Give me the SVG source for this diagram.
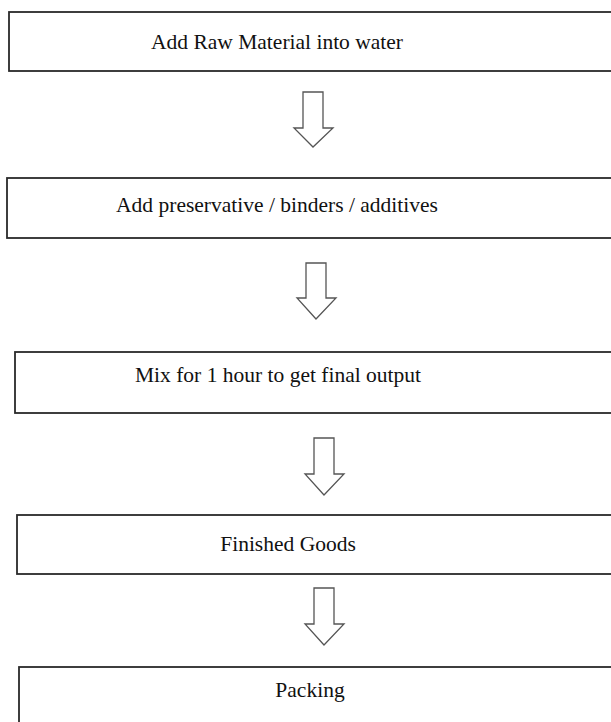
<svg xmlns="http://www.w3.org/2000/svg" width="611" height="722" viewBox="0 0 611 722">
<style>
.box{fill:#fff;stroke:#2a2a2a;stroke-width:1.8}
.lbl{font-family:"Liberation Serif","Times New Roman",serif;font-size:21.5px;fill:#111;text-anchor:middle}
.arr{fill:#fff;stroke:#555;stroke-width:1.3;stroke-linejoin:miter}
</style>
<rect width="611" height="722" fill="#fff"/>
<g id="connectors">
<path class="arr" d="M303,92 H323 V128 H333 L313,147 L294,128 H303 Z"/>
<path class="arr" d="M306,263 H326 V298 H336 L316,319 L297,298 H306 Z"/>
<path class="arr" d="M314,438 H334 V474 H344 L324,495 L305,474 H314 Z"/>
<path class="arr" d="M314,588 H334 V624 H344 L324,645 L305,624 H314 Z"/>
</g>
<g id="n1"><rect class="box" x="9" y="12" width="620" height="59"/><text class="lbl" x="277" y="49">Add Raw Material into water</text></g>
<g id="n2"><rect class="box" x="7" y="178" width="620" height="60"/><text class="lbl" x="277" y="212">Add preservative / binders / additives</text></g>
<g id="n3"><rect class="box" x="15" y="352" width="620" height="61"/><text class="lbl" x="278" y="382">Mix for 1 hour to get final output</text></g>
<g id="n4"><rect class="box" x="17" y="515" width="620" height="59"/><text class="lbl" x="288" y="551">Finished Goods</text></g>
<g id="n5"><rect class="box" x="19" y="667" width="620" height="80"/><text class="lbl" x="310" y="697">Packing</text></g>
</svg>
